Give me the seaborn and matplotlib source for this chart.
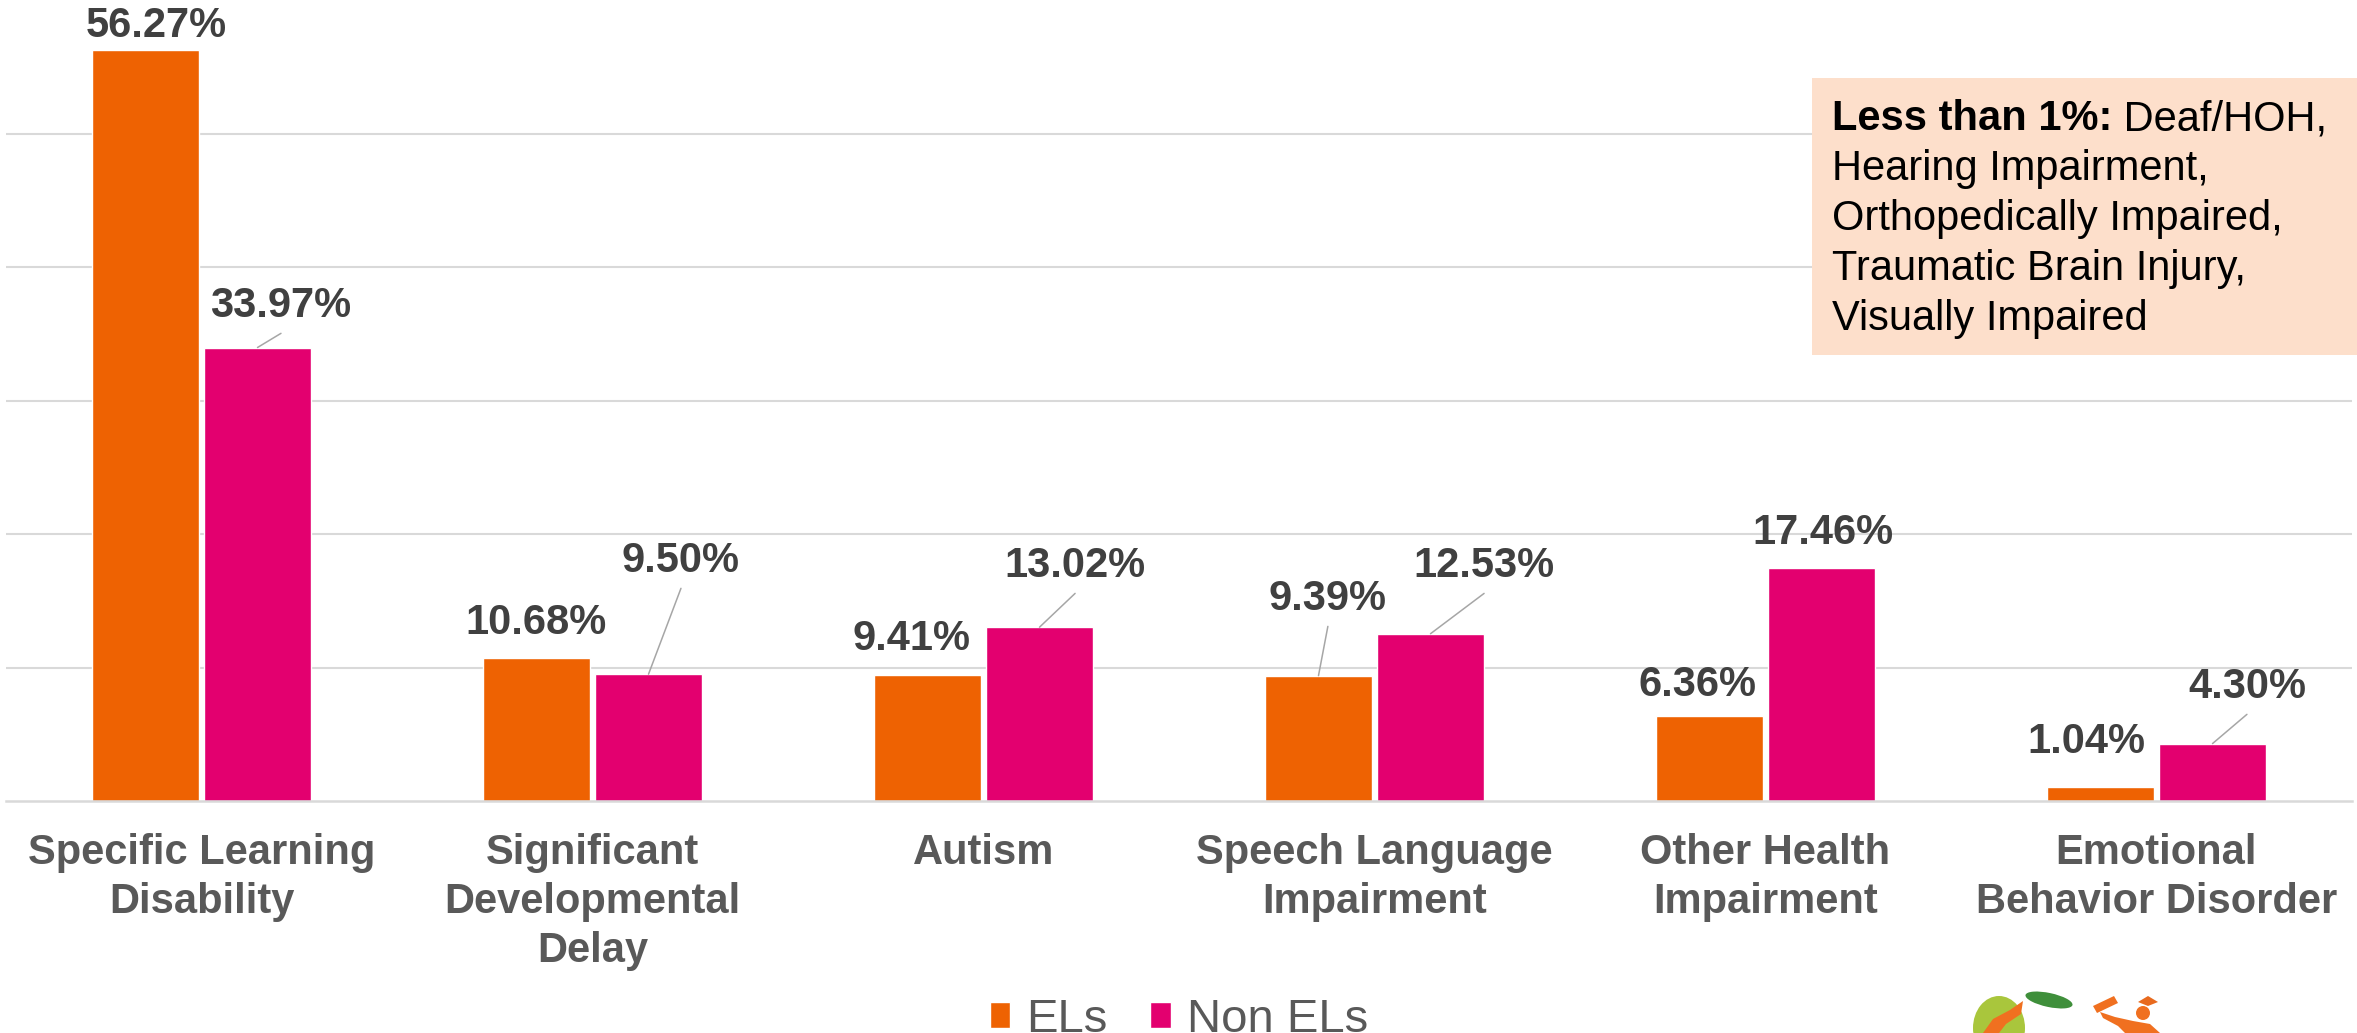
import numpy as np
import pandas as pd
import matplotlib
matplotlib.use("Agg")
import matplotlib.pyplot as plt
import seaborn as sns
from matplotlib.patches import Rectangle, Patch, Ellipse, Polygon, Circle

# ---------------- data ----------------
categories = ["Specific Learning\nDisability", "Significant\nDevelopmental\nDelay", "Autism",
              "Speech Language\nImpairment", "Other Health\nImpairment", "Emotional\nBehavior Disorder"]
series_names = ["ELs", "Non ELs"]
els_values = [56.27, 10.68, 9.41, 9.39, 6.36, 1.04]
non_els_values = [33.97, 9.50, 13.02, 12.53, 17.46, 4.30]
note_title = "Less than 1%:"
note_first = "Deaf/HOH,"
note_rest = ["Hearing Impairment,", "Orthopedically Impaired,", "Traumatic Brain Injury,", "Visually Impaired"]

# ---------------- label layout (offsets from bar top) ----------------
els_label_dx = [0.027, 0.0, -0.04, 0.024, -0.03, -0.035]
els_label_dy = [1.78, 2.65, 2.72, 5.74, 2.33, 3.38]
els_leader = [False, False, False, True, False, False]
non_label_dx = [0.06, 0.083, 0.091, 0.137, 0.004, 0.088]
non_label_dy = [3.11, 8.48, 4.58, 5.07, 2.61, 4.24]
non_leader = [True, True, True, True, False, True]

ORANGE = "#EE6202"
PINK = "#E3006F"
GRID = "#D9D9D9"

sns.set_style("white")
plt.rcParams["font.family"] = ["Liberation Sans", "DejaVu Sans"]

W, H = 2357, 1033
fig = plt.figure(figsize=(W / 100, H / 100), dpi=100)
fig.patch.set_facecolor("white")

ax = fig.add_axes([6 / W, 1 - 801 / H, (2352 - 6) / W, 801 / H])

df = pd.DataFrame({
    "category": categories * 2,
    "value": els_values + non_els_values,
    "group": [series_names[0]] * len(categories) + [series_names[1]] * len(categories),
})

sns.barplot(data=df, x="category", y="value", hue="group", order=categories,
            hue_order=series_names, palette=[ORANGE, PINK], saturation=1,
            width=0.573, gap=0.045, legend=False, ax=ax, zorder=2)

ax.set_xlim(-0.5, len(categories) - 0.5)
ax.set_ylim(0, 60)
ax.set_yticks([10, 20, 30, 40, 50])
ax.yaxis.grid(True, color=GRID, linewidth=1.5, zorder=0)
ax.set_axisbelow(True)
ax.tick_params(axis="y", left=False, labelleft=False)
ax.set_xlabel("")
ax.set_ylabel("")
for s in ["top", "right", "left"]:
    ax.spines[s].set_visible(False)
ax.spines["bottom"].set_color(GRID)
ax.spines["bottom"].set_linewidth(1.8)

ax.set_xticks(range(len(categories)))
ax.set_xticklabels(categories, fontsize=30, fontweight="bold", color="#595959",
                   linespacing=1.29)
ax.tick_params(axis="x", which="major", length=0, pad=23)
ax.set_xticks(np.arange(-0.5, len(categories), 1.0), minor=True)
ax.tick_params(axis="x", which="minor", length=10, width=1.5, color=GRID)

# value labels
def label_series(container, values, dxs, dys, leaders):
    for bar, v, dx, dy, lead in zip(container.patches, values, dxs, dys, leaders):
        bx = bar.get_x() + bar.get_width() / 2
        h = bar.get_height()
        lx, ly = bx + dx, h + dy
        ax.text(lx, ly, f"{v:.2f}%", ha="center", va="center", fontsize=30,
                fontweight="bold", color="#404040", zorder=5, clip_on=False)
        if lead:
            ax.plot([bx, lx], [h, ly - 2.05], color="#A6A6A6", lw=1.1, zorder=4)

label_series(ax.containers[0], els_values, els_label_dx, els_label_dy, els_leader)
label_series(ax.containers[1], non_els_values, non_label_dx, non_label_dy, non_leader)

# legend
handles = [Patch(facecolor=ORANGE), Patch(facecolor=PINK)]
fig.legend(handles, series_names, loc="center", bbox_to_anchor=(1179 / W, 1 - 1020 / H),
           ncol=2, frameon=False, fontsize=34, handlelength=0.43, handleheight=0.47,
           handletextpad=0.34, columnspacing=0.9, labelcolor="#595959")

# overlay axes in pixel coordinates for note box and logo
ov = fig.add_axes([0, 0, 1, 1])
ov.set_xlim(0, W)
ov.set_ylim(H, 0)
ov.axis("off")
ov.patch.set_alpha(0)

ov.add_patch(Rectangle((1812, 78), W - 1812, 355 - 78, facecolor="#FDDFCB", edgecolor="none"))
t_bold = ov.text(1832, 130, note_title, fontsize=30, fontweight="bold", color="black",
                 va="baseline", ha="left")
ov.annotate(" " + note_first, xy=(1, 0), xycoords=t_bold, fontsize=30, color="black",
            va="bottom", ha="left")
for i, line in enumerate(note_rest):
    ov.text(1832, 180 + 50 * i, line, fontsize=30, color="black", va="baseline", ha="left")

# simple logo approximation (bottom right, partially cut off)
ov.add_patch(Ellipse((1999, 1028), 52, 64, facecolor="#A9C63C", edgecolor="none"))
ov.add_patch(Polygon([(1983, 1033), (1993, 1019), (2010, 1010), (2023, 1001),
                      (2021, 1014), (2006, 1024), (1999, 1033)],
                     facecolor="#F07020", edgecolor="none"))
ov.add_patch(Ellipse((2049, 1000), 48, 14, angle=12, facecolor="#3F8F3B", edgecolor="none"))
ov.add_patch(Polygon([(2093, 1006), (2114, 996), (2118, 1003), (2097, 1013)],
                     facecolor="#F07020", edgecolor="none"))
ov.add_patch(Circle((2143, 1013), 7, facecolor="#F07020", edgecolor="none"))
ov.add_patch(Polygon([(2138, 1002), (2148, 996), (2158, 1002), (2148, 1006)],
                     facecolor="#E86A1E", edgecolor="none"))
ov.add_patch(Polygon([(2100, 1012), (2115, 1017), (2133, 1021), (2150, 1024), (2160, 1033),
                      (2125, 1033), (2118, 1026), (2103, 1018)],
                     facecolor="#F07020", edgecolor="none"))

fig.savefig("out.png", dpi=100)
